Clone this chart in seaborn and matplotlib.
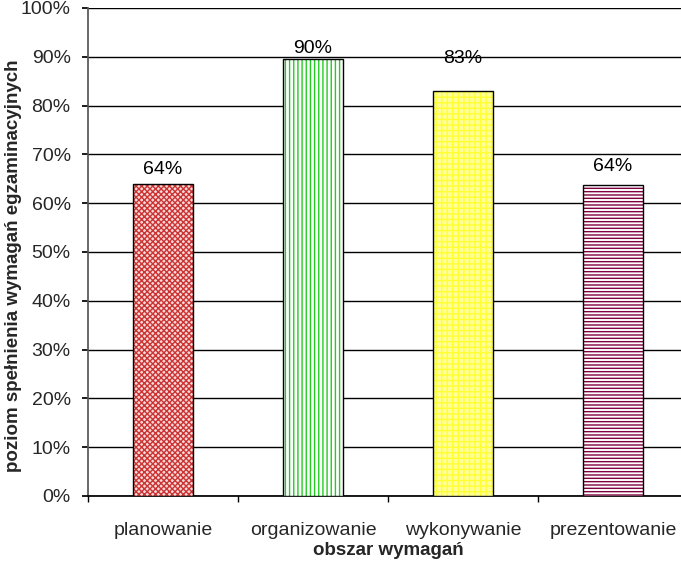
import matplotlib
matplotlib.use("Agg")
import matplotlib.pyplot as plt
import seaborn as sns
import pandas as pd
import numpy as np
from matplotlib.ticker import FuncFormatter, FixedLocator

categories = ["planowanie", "organizowanie", "wykonywanie", "prezentowanie"]
values = [0.639, 0.895, 0.829, 0.637]
labels = ["64%", "90%", "83%", "64%"]
label_offsets = [0.012, 0.004, 0.051, 0.02]

fills = ["#f6d8d8", "#ffffff", "#ffff99", "#ffffff"]
hatch_colors = ["#cc3333", "#22cc22", "#ffff33", "#800040"]
hatches = ["xxxxxx", "||||", "+++", "-----"]

sns.set_theme(style="white")
plt.rcParams["font.family"] = ["Liberation Sans", "DejaVu Sans"]
plt.rcParams["hatch.linewidth"] = 1.0

fig = plt.figure(figsize=(6.81, 5.63), dpi=100)
ax = fig.add_axes([88/681, 67/563, 600/681, 488/563])

df = pd.DataFrame({"cat": categories, "val": values})
sns.barplot(data=df, x="cat", y="val", ax=ax, width=0.4, color="white", zorder=3)

for i, p in enumerate(ax.patches):
    p.set_facecolor(fills[i])
    p.set_edgecolor(hatch_colors[i])
    p.set_hatch(hatches[i])
    p.set_linewidth(0)
    x, w, h = p.get_x(), p.get_width(), p.get_height()
    ax.bar(x + w/2, h, width=w, fill=False, edgecolor="black", linewidth=1, zorder=4)
    ax.text(x + w/2, h + label_offsets[i], labels[i], ha="center", va="bottom",
            fontsize=14, color="black", zorder=5)

ax.set_ylim(0, 1.0)
ax.set_xlim(-0.5, 3.5)
ax.yaxis.set_major_locator(FixedLocator(np.arange(0, 1.01, 0.1)))
ax.yaxis.set_major_formatter(FuncFormatter(lambda v, _: f"{round(v*100)}%"))
ax.grid(axis="y", color="black", linewidth=1, zorder=0)
ax.grid(axis="x", visible=False)
for s in ["top", "right"]:
    ax.spines[s].set_visible(False)
ax.spines["left"].set_color("#555555")
ax.spines["bottom"].set_color("black")
ax.tick_params(axis="y", which="major", direction="out", length=4.5, color="black",
               labelsize=14, pad=8, left=True)
ax.tick_params(axis="x", which="major", length=0, labelsize=14, pad=19)
ax.set_xticks(np.arange(-0.5, 4.0, 1.0), minor=True)
ax.tick_params(axis="x", which="minor", direction="out", length=4, color="black", bottom=True)

ax.set_xlabel("obszar wymagań", fontsize=13.5, fontweight="bold", labelpad=2)
ax.set_ylabel("poziom spełnienia wymagań egzaminacyjnych", fontsize=13.5,
              fontweight="bold", va="center")
ax.yaxis.set_label_coords(-0.125, 0.471)

fig.savefig("out.png", dpi=100)
